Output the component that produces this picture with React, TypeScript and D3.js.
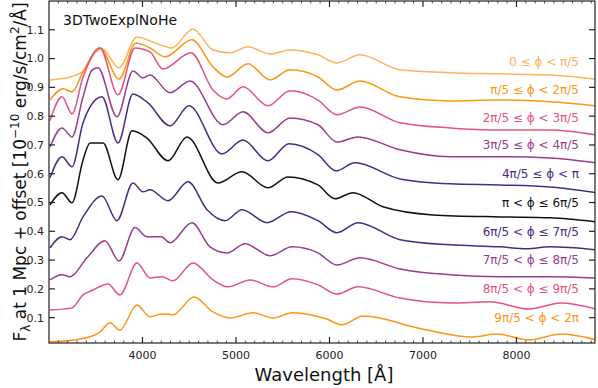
import React, { useEffect, useRef } from 'react';
import * as d3 from 'd3';

const width = 598;
const height = 388;
const margin = { top: 1, right: 3, bottom: 45, left: 49 };

// legend labels, top (offset 1.0) to bottom (offset 0.1)
const phaseLabels = [
  '0 ≤ ϕ < π/5',
  'π/5 ≤ ϕ < 2π/5',
  '2π/5 ≤ ϕ < 3π/5',
  '3π/5 ≤ ϕ < 4π/5',
  '4π/5 ≤ ϕ < π',
  'π < ϕ ≤ 6π/5',
  '6π/5 < ϕ ≤ 7π/5',
  '7π/5 < ϕ ≤ 8π/5',
  '8π/5 < ϕ ≤ 9π/5',
  '9π/5 < ϕ < 2π',
];
const labelOffsets = [0.99, 0.89, 0.795, 0.7, 0.6, 0.5, 0.4, 0.3, 0.2, 0.1];
const lineColors = [
  '#fdb35a', '#ff9412', '#e4537a', '#9a3b8e', '#4b2a84',
  '#111111', '#4b2a84', '#9a3b8e', '#e4537a', '#ff9412',
];

// [wavelength (Å), flux + offset]
const spec0 = [[3011,0.926],[3225,0.936],[3364,0.957],[3492,1.020],[3567,1.034],[3749,0.968],[3941,1.075],[4134,1.054],[4315,1.037],[4540,1.103],[4754,1.030],[4936,1.020],[5128,1.041],[5364,1.016],[5578,1.030],[5877,1.013],[6080,0.985],[6326,1.013],[6754,0.961],[7289,0.951],[7823,0.947],[8358,0.943],[8850,0.929]];
const spec1 = [[3011,0.856],[3150,0.895],[3246,0.885],[3364,0.954],[3545,1.037],[3749,0.929],[3930,1.054],[4080,1.037],[4241,1.006],[4529,1.065],[4754,0.971],[4904,0.936],[5128,0.982],[5364,0.926],[5578,0.961],[5877,0.936],[6080,0.891],[6326,0.922],[6754,0.867],[7289,0.853],[7823,0.856],[8358,0.850],[8850,0.836]];
const spec2 = [[3011,0.784],[3139,0.867],[3246,0.808],[3364,0.936],[3545,1.037],[3738,0.874],[3920,1.037],[4080,1.023],[4219,0.964],[4519,1.020],[4754,0.891],[4904,0.860],[5075,0.902],[5342,0.836],[5578,0.888],[5877,0.856],[6080,0.805],[6326,0.832],[6754,0.777],[7289,0.759],[7823,0.752],[8358,0.752],[8850,0.735]];
const spec3 = [[3011,0.693],[3139,0.759],[3246,0.728],[3364,0.867],[3460,0.960],[3524,0.968],[3727,0.798],[3898,0.957],[4005,0.933],[4080,0.943],[4294,0.881],[4508,0.922],[4861,0.770],[5075,0.815],[5342,0.742],[5578,0.794],[5877,0.770],[6080,0.710],[6305,0.728],[6754,0.683],[7289,0.659],[7823,0.659],[8358,0.655],[8850,0.638]];
const spec4 = [[3011,0.586],[3139,0.659],[3246,0.624],[3364,0.777],[3439,0.832],[3567,0.867],[3738,0.707],[3898,0.877],[4059,0.846],[4294,0.766],[4497,0.836],[4850,0.669],[5075,0.717],[5342,0.645],[5567,0.704],[5877,0.666],[6069,0.610],[6273,0.638],[6754,0.582],[7289,0.565],[7823,0.561],[8358,0.554],[8850,0.534]];
const spec5 = [[3011,0.492],[3139,0.534],[3246,0.499],[3364,0.648],[3439,0.707],[3578,0.707],[3738,0.579],[3888,0.749],[4048,0.724],[4273,0.645],[4476,0.728],[4807,0.568],[5064,0.607],[5342,0.551],[5556,0.589],[5877,0.561],[6059,0.513],[6251,0.534],[6572,0.485],[7107,0.457],[7823,0.450],[8358,0.447],[8850,0.433]];
const spec6 = [[3011,0.343],[3139,0.381],[3225,0.371],[3364,0.450],[3567,0.523],[3727,0.437],[3898,0.568],[4005,0.537],[4080,0.544],[4273,0.506],[4487,0.572],[4690,0.475],[4882,0.437],[5064,0.475],[5332,0.430],[5588,0.468],[5877,0.437],[6080,0.395],[6305,0.430],[6754,0.371],[7289,0.353],[7823,0.346],[8112,0.339],[8358,0.346],[8850,0.336]];
const spec7 = [[3011,0.231],[3139,0.249],[3225,0.242],[3406,0.308],[3599,0.367],[3749,0.297],[3920,0.413],[4048,0.381],[4200,0.381],[4294,0.360],[4529,0.430],[4722,0.346],[4904,0.325],[5096,0.357],[5364,0.315],[5599,0.346],[5877,0.325],[6080,0.283],[6326,0.308],[6754,0.269],[7289,0.249],[7823,0.242],[8358,0.242],[8850,0.238]];
const spec8 = [[3011,0.127],[3246,0.134],[3364,0.179],[3470,0.196],[3631,0.217],[3759,0.179],[3941,0.290],[4080,0.238],[4209,0.242],[4326,0.228],[4540,0.290],[4754,0.231],[4914,0.207],[5150,0.231],[5396,0.207],[5599,0.235],[5877,0.214],[6080,0.182],[6305,0.207],[6754,0.168],[7300,0.151],[7717,0.155],[8134,0.130],[8476,0.151],[8850,0.130]];
const spec9 = [[3011,0.016],[3332,0.026],[3545,0.050],[3652,0.082],[3759,0.057],[3941,0.144],[4080,0.103],[4209,0.113],[4326,0.110],[4551,0.172],[4754,0.120],[4936,0.099],[5182,0.117],[5396,0.099],[5599,0.117],[5963,0.096],[6134,0.075],[6358,0.106],[6989,0.061],[7524,0.033],[7791,0.043],[8134,0.023],[8476,0.043],[8850,0.023]];
const spectra = [spec0, spec1, spec2, spec3, spec4, spec5, spec6, spec7, spec8, spec9];

const xTicks = [4000, 5000, 6000, 7000, 8000];
const yTicks = [0.1, 0.2, 0.3, 0.4, 0.5, 0.6, 0.7, 0.8, 0.9, 1.0, 1.1];

const FONT = 'DejaVu Sans, Verdana, sans-serif';

export default function App() {
  const ref = useRef<SVGSVGElement>(null);

  useEffect(() => {
    const svg = d3.select(ref.current);
    svg.selectAll('*').remove();

    const x = d3.scaleLinear().domain([3000, 8840]).range([margin.left, width - margin.right]);
    const y = d3.scaleLinear().domain([0.012, 1.2]).range([height - margin.bottom, margin.top]);
    const x0 = margin.left, x1 = width - margin.right;
    const y0 = height - margin.bottom, y1 = margin.top;

    svg.append('defs').append('clipPath').attr('id', 'plotclip')
      .append('rect').attr('x', x0).attr('y', y1).attr('width', x1 - x0).attr('height', y0 - y1);

    const line = d3.line<number[]>()
      .x(d => x(d[0]))
      .y(d => y(d[1]))
      .curve(d3.curveMonotoneX);

    const g = svg.append('g').attr('clip-path', 'url(#plotclip)');
    spectra.forEach((s, i) => {
      g.append('path')
        .attr('d', line(s))
        .attr('fill', 'none')
        .attr('stroke', lineColors[i])
        .attr('stroke-width', 1.5)
        .attr('stroke-linejoin', 'round');
    });

    // legend-ish labels on the right
    phaseLabels.forEach((lab, i) => {
      svg.append('text')
        .attr('x', 579)
        .attr('y', y(labelOffsets[i]))
        .attr('dy', '0.35em')
        .attr('text-anchor', 'end')
        .attr('font-family', FONT)
        .attr('font-size', 12)
        .attr('fill', lineColors[i])
        .text(lab);
    });

    // frame
    svg.append('rect')
      .attr('x', x0).attr('y', y1)
      .attr('width', x1 - x0).attr('height', y0 - y1)
      .attr('fill', 'none').attr('stroke', '#222').attr('stroke-width', 1.2);

    const ticks = svg.append('g').attr('stroke', '#222').attr('stroke-width', 1.2);
    const minor = d3.range(3100, 8840, 100).filter(v => v % 1000 !== 0);
    minor.forEach(v => {
      ticks.append('line').attr('x1', x(v)).attr('x2', x(v)).attr('y1', y0).attr('y2', y0 - 2.5).attr('stroke-width', 0.8);
      ticks.append('line').attr('x1', x(v)).attr('x2', x(v)).attr('y1', y1).attr('y2', y1 + 2.5).attr('stroke-width', 0.8);
    });
    xTicks.forEach(v => {
      ticks.append('line').attr('x1', x(v)).attr('x2', x(v)).attr('y1', y0).attr('y2', y0 - 6);
      ticks.append('line').attr('x1', x(v)).attr('x2', x(v)).attr('y1', y1).attr('y2', y1 + 6);
      svg.append('text')
        .attr('x', x(v)).attr('y', y0 + 16)
        .attr('text-anchor', 'middle')
        .attr('font-family', FONT).attr('font-size', 11).attr('fill', '#222')
        .text(v);
    });
    yTicks.forEach(v => {
      ticks.append('line').attr('x1', x0).attr('x2', x0 + 6).attr('y1', y(v)).attr('y2', y(v));
      ticks.append('line').attr('x1', x1).attr('x2', x1 - 6).attr('y1', y(v)).attr('y2', y(v));
      svg.append('text')
        .attr('x', x0 - 5).attr('y', y(v)).attr('dy', '0.35em')
        .attr('text-anchor', 'end')
        .attr('font-family', FONT).attr('font-size', 11).attr('fill', '#222')
        .text(d3.format('.1f')(v));
    });

    // model name
    svg.append('text')
      .attr('x', 63).attr('y', 25)
      .attr('font-family', FONT).attr('font-size', 14).attr('fill', '#111')
      .text('3DTwoExplNoHe');

    // x label
    svg.append('text')
      .attr('x', (x0 + x1) / 2 + 2).attr('y', 381)
      .attr('text-anchor', 'middle')
      .attr('font-family', FONT).attr('font-size', 18).attr('fill', '#111')
      .text('Wavelength [Å]');

    // y label
    const yl = svg.append('text')
      .attr('transform', `translate(26,${(y0 + y1) / 2}) rotate(-90)`)
      .attr('text-anchor', 'middle')
      .attr('font-family', FONT).attr('font-size', 17).attr('fill', '#111');
    yl.append('tspan').text('F');
    yl.append('tspan').attr('dy', 4).attr('font-size', 12).text('λ');
    yl.append('tspan').attr('dy', -4).text(' at 1 Mpc + offset [10');
    yl.append('tspan').attr('dy', -7).attr('font-size', 12).text('−10');
    yl.append('tspan').attr('dy', 7).text(' erg/s/cm');
    yl.append('tspan').attr('dy', -7).attr('font-size', 12).text('2');
    yl.append('tspan').attr('dy', 7).text('/Å]');
  }, []);

  return (
    <div style={{ position: 'absolute', left: 0, top: 0 }}>
      <svg ref={ref} width={width} height={height} style={{ display: 'block', background: '#fff' }} />
    </div>
  );
}
